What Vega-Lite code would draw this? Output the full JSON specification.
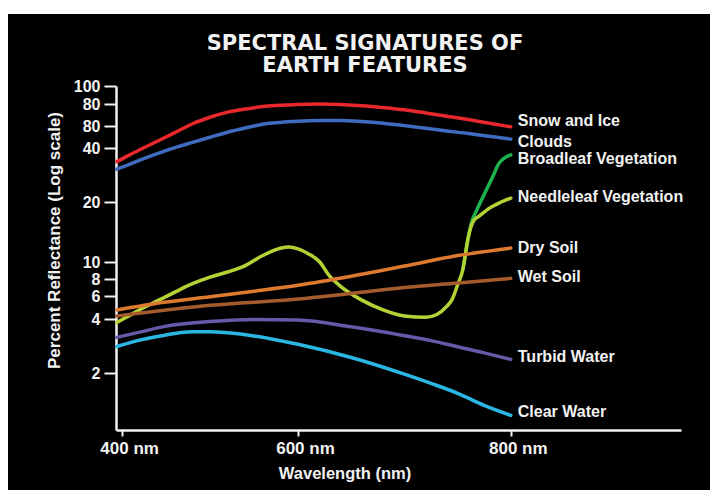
{
  "$schema": "https://vega.github.io/schema/vega-lite/v6.json",
  "width": 702,
  "height": 476,
  "autosize": "none",
  "padding": {"left": 8, "top": 14, "right": 0, "bottom": 0},
  "background": "white",
  "view": {"fill": "black", "stroke": null},
  "title": {
    "text": ["SPECTRAL SIGNATURES OF", "EARTH FEATURES"],
    "color": "#f2f2f2",
    "font": "DejaVu Sans",
    "fontSize": 21,
    "fontWeight": "bold",
    "lineHeight": 22,
    "anchor": "middle",
    "offset": 0,
    "dx": 6,
    "dy": 62
  },
  "datasets": {
    "curves": [
      {"s": "Snow and Ice", "nm": 394, "r": 33.6},
      {"s": "Snow and Ice", "nm": 400, "r": 34.8},
      {"s": "Snow and Ice", "nm": 420, "r": 39.1},
      {"s": "Snow and Ice", "nm": 440, "r": 45.3},
      {"s": "Snow and Ice", "nm": 460, "r": 53.1},
      {"s": "Snow and Ice", "nm": 480, "r": 61.8},
      {"s": "Snow and Ice", "nm": 500, "r": 67.3},
      {"s": "Snow and Ice", "nm": 520, "r": 71.9},
      {"s": "Snow and Ice", "nm": 540, "r": 74.9},
      {"s": "Snow and Ice", "nm": 560, "r": 77.4},
      {"s": "Snow and Ice", "nm": 580, "r": 78.6},
      {"s": "Snow and Ice", "nm": 600, "r": 79.6},
      {"s": "Snow and Ice", "nm": 620, "r": 79.9},
      {"s": "Snow and Ice", "nm": 640, "r": 79.6},
      {"s": "Snow and Ice", "nm": 660, "r": 78.2},
      {"s": "Snow and Ice", "nm": 680, "r": 76.3},
      {"s": "Snow and Ice", "nm": 700, "r": 74.1},
      {"s": "Snow and Ice", "nm": 720, "r": 71.2},
      {"s": "Snow and Ice", "nm": 740, "r": 68.2},
      {"s": "Snow and Ice", "nm": 760, "r": 65.3},
      {"s": "Snow and Ice", "nm": 780, "r": 62.2},
      {"s": "Snow and Ice", "nm": 800, "r": 59.1},
      {"s": "Clouds", "nm": 394, "r": 30.5},
      {"s": "Clouds", "nm": 400, "r": 31.3},
      {"s": "Clouds", "nm": 420, "r": 34.2},
      {"s": "Clouds", "nm": 440, "r": 37.2},
      {"s": "Clouds", "nm": 460, "r": 40.3},
      {"s": "Clouds", "nm": 480, "r": 44.4},
      {"s": "Clouds", "nm": 500, "r": 48.8},
      {"s": "Clouds", "nm": 520, "r": 53.5},
      {"s": "Clouds", "nm": 540, "r": 57.8},
      {"s": "Clouds", "nm": 560, "r": 61.4},
      {"s": "Clouds", "nm": 580, "r": 62.9},
      {"s": "Clouds", "nm": 600, "r": 63.8},
      {"s": "Clouds", "nm": 620, "r": 64.4},
      {"s": "Clouds", "nm": 640, "r": 64.5},
      {"s": "Clouds", "nm": 660, "r": 63.6},
      {"s": "Clouds", "nm": 680, "r": 62.2},
      {"s": "Clouds", "nm": 700, "r": 60.3},
      {"s": "Clouds", "nm": 720, "r": 57.5},
      {"s": "Clouds", "nm": 740, "r": 54.7},
      {"s": "Clouds", "nm": 760, "r": 52.3},
      {"s": "Clouds", "nm": 780, "r": 49.6},
      {"s": "Clouds", "nm": 800, "r": 47.1},
      {"s": "Broadleaf Vegetation", "nm": 755, "r": 9.09},
      {"s": "Broadleaf Vegetation", "nm": 760, "r": 13.26},
      {"s": "Broadleaf Vegetation", "nm": 763, "r": 15.7},
      {"s": "Broadleaf Vegetation", "nm": 768, "r": 18.2},
      {"s": "Broadleaf Vegetation", "nm": 777, "r": 23.3},
      {"s": "Broadleaf Vegetation", "nm": 784, "r": 28.5},
      {"s": "Broadleaf Vegetation", "nm": 788, "r": 32.2},
      {"s": "Broadleaf Vegetation", "nm": 793, "r": 34.8},
      {"s": "Broadleaf Vegetation", "nm": 800, "r": 36.6},
      {"s": "Needleleaf Vegetation", "nm": 394, "r": 3.82},
      {"s": "Needleleaf Vegetation", "nm": 400, "r": 3.97},
      {"s": "Needleleaf Vegetation", "nm": 420, "r": 4.7},
      {"s": "Needleleaf Vegetation", "nm": 440, "r": 5.5},
      {"s": "Needleleaf Vegetation", "nm": 460, "r": 6.41},
      {"s": "Needleleaf Vegetation", "nm": 480, "r": 7.39},
      {"s": "Needleleaf Vegetation", "nm": 500, "r": 8.2},
      {"s": "Needleleaf Vegetation", "nm": 520, "r": 8.77},
      {"s": "Needleleaf Vegetation", "nm": 540, "r": 9.54},
      {"s": "Needleleaf Vegetation", "nm": 560, "r": 10.78},
      {"s": "Needleleaf Vegetation", "nm": 580, "r": 11.73},
      {"s": "Needleleaf Vegetation", "nm": 590, "r": 11.89},
      {"s": "Needleleaf Vegetation", "nm": 600, "r": 11.63},
      {"s": "Needleleaf Vegetation", "nm": 610, "r": 10.98},
      {"s": "Needleleaf Vegetation", "nm": 620, "r": 10.06},
      {"s": "Needleleaf Vegetation", "nm": 630, "r": 8.27},
      {"s": "Needleleaf Vegetation", "nm": 640, "r": 7.07},
      {"s": "Needleleaf Vegetation", "nm": 660, "r": 5.58},
      {"s": "Needleleaf Vegetation", "nm": 680, "r": 4.7},
      {"s": "Needleleaf Vegetation", "nm": 700, "r": 4.22},
      {"s": "Needleleaf Vegetation", "nm": 720, "r": 4.12},
      {"s": "Needleleaf Vegetation", "nm": 730, "r": 4.31},
      {"s": "Needleleaf Vegetation", "nm": 740, "r": 5.01},
      {"s": "Needleleaf Vegetation", "nm": 745, "r": 5.68},
      {"s": "Needleleaf Vegetation", "nm": 750, "r": 7.24},
      {"s": "Needleleaf Vegetation", "nm": 755, "r": 9.09},
      {"s": "Needleleaf Vegetation", "nm": 760, "r": 13.26},
      {"s": "Needleleaf Vegetation", "nm": 765, "r": 16.1},
      {"s": "Needleleaf Vegetation", "nm": 770, "r": 16.93},
      {"s": "Needleleaf Vegetation", "nm": 780, "r": 18.64},
      {"s": "Needleleaf Vegetation", "nm": 790, "r": 19.88},
      {"s": "Needleleaf Vegetation", "nm": 800, "r": 21.0},
      {"s": "Dry Soil", "nm": 394, "r": 4.69},
      {"s": "Dry Soil", "nm": 450, "r": 5.39},
      {"s": "Dry Soil", "nm": 500, "r": 5.92},
      {"s": "Dry Soil", "nm": 550, "r": 6.51},
      {"s": "Dry Soil", "nm": 600, "r": 7.19},
      {"s": "Dry Soil", "nm": 650, "r": 8.29},
      {"s": "Dry Soil", "nm": 700, "r": 9.48},
      {"s": "Dry Soil", "nm": 750, "r": 10.77},
      {"s": "Dry Soil", "nm": 800, "r": 11.75},
      {"s": "Wet Soil", "nm": 394, "r": 4.22},
      {"s": "Wet Soil", "nm": 450, "r": 4.68},
      {"s": "Wet Soil", "nm": 500, "r": 5.09},
      {"s": "Wet Soil", "nm": 600, "r": 5.68},
      {"s": "Wet Soil", "nm": 650, "r": 6.27},
      {"s": "Wet Soil", "nm": 700, "r": 6.92},
      {"s": "Wet Soil", "nm": 750, "r": 7.48},
      {"s": "Wet Soil", "nm": 800, "r": 8.07},
      {"s": "Turbid Water", "nm": 394, "r": 3.16},
      {"s": "Turbid Water", "nm": 420, "r": 3.38},
      {"s": "Turbid Water", "nm": 450, "r": 3.65},
      {"s": "Turbid Water", "nm": 500, "r": 3.87},
      {"s": "Turbid Water", "nm": 550, "r": 3.98},
      {"s": "Turbid Water", "nm": 600, "r": 3.95},
      {"s": "Turbid Water", "nm": 650, "r": 3.62},
      {"s": "Turbid Water", "nm": 700, "r": 3.23},
      {"s": "Turbid Water", "nm": 725, "r": 3.03},
      {"s": "Turbid Water", "nm": 750, "r": 2.8},
      {"s": "Turbid Water", "nm": 775, "r": 2.59},
      {"s": "Turbid Water", "nm": 800, "r": 2.38},
      {"s": "Clear Water", "nm": 394, "r": 2.81},
      {"s": "Clear Water", "nm": 420, "r": 3.05},
      {"s": "Clear Water", "nm": 450, "r": 3.26},
      {"s": "Clear Water", "nm": 480, "r": 3.4},
      {"s": "Clear Water", "nm": 500, "r": 3.4},
      {"s": "Clear Water", "nm": 520, "r": 3.35},
      {"s": "Clear Water", "nm": 550, "r": 3.22},
      {"s": "Clear Water", "nm": 600, "r": 2.89},
      {"s": "Clear Water", "nm": 650, "r": 2.44},
      {"s": "Clear Water", "nm": 700, "r": 1.97},
      {"s": "Clear Water", "nm": 725, "r": 1.75},
      {"s": "Clear Water", "nm": 750, "r": 1.54},
      {"s": "Clear Water", "nm": 775, "r": 1.32},
      {"s": "Clear Water", "nm": 800, "r": 1.16}
    ],
    "labels": [
      {"s": "Snow and Ice", "nm": 800, "r": 64.3},
      {"s": "Clouds", "nm": 800, "r": 44.9},
      {"s": "Broadleaf Vegetation", "nm": 800, "r": 34.7},
      {"s": "Needleleaf Vegetation", "nm": 800, "r": 21.4},
      {"s": "Dry Soil", "nm": 800, "r": 11.7},
      {"s": "Wet Soil", "nm": 800, "r": 8.25},
      {"s": "Turbid Water", "nm": 800, "r": 2.45},
      {"s": "Clear Water", "nm": 800, "r": 1.215}
    ]
  },
  "encoding": {
    "x": {
      "field": "nm",
      "type": "quantitative",
      "scale": {"domain": [393, 600, 960], "range": [108, 290, 673], "zero": false, "nice": false},
      "axis": {
        "values": [400, 600, 800],
        "labelExpr": "datum.value + ' nm'",
        "title": "Wavelength (nm)",
        "offset": -60,
        "grid": false,
        "domainColor": "#f2f2f2",
        "domainWidth": 2.5,
        "tickColor": "#f2f2f2",
        "tickWidth": 2,
        "tickSize": 6,
        "labelColor": "#f2f2f2",
        "labelFont": "Liberation Sans",
        "labelFontSize": 17,
        "labelFontWeight": "bold",
        "labelPadding": 4,
        "labelOffset": 7,
        "labelOverlap": false,
        "titleColor": "#f2f2f2",
        "titleFont": "Liberation Sans",
        "titleFontSize": 16.5,
        "titleFontWeight": "bold",
        "titleX": 336.5,
        "titleY": 43,
        "titleBaseline": "middle",
        "titleAlign": "center"
      }
    },
    "y": {
      "field": "r",
      "type": "quantitative",
      "scale": {
        "type": "log",
        "domain": [0.96, 2, 4, 6, 8, 10, 20, 40, 60, 80, 100],
        "range": [416, 359, 305, 282, 265, 248, 188, 134, 112, 90, 72],
        "nice": false
      },
      "axis": {
        "values": [2, 4, 6, 8, 10, 20, 40, 60, 80, 100],
        "labelExpr": "datum.value == 60 ? '80' : format(datum.value, 'd')",
        "title": "Percent Reflectance (Log scale)",
        "offset": -108,
        "grid": false,
        "domainColor": "#f2f2f2",
        "domainWidth": 2.5,
        "tickColor": "#f2f2f2",
        "tickWidth": 2,
        "tickSize": 12,
        "labelColor": "#f2f2f2",
        "labelFont": "Liberation Sans",
        "labelFontSize": 16,
        "labelFontWeight": "bold",
        "labelPadding": 4,
        "labelOverlap": false,
        "labelBound": false,
        "labelFlush": false,
        "titleColor": "#f2f2f2",
        "titleFont": "Liberation Sans",
        "titleFontSize": 17,
        "titleFontWeight": "bold",
        "titleX": -62,
        "titleY": 226,
        "titleAngle": -90,
        "titleBaseline": "middle",
        "titleAlign": "center"
      }
    }
  },
  "layer": [
    {
      "data": {"name": "curves"},
      "mark": {"type": "line", "interpolate": "monotone", "strokeWidth": 3.5, "strokeCap": "round"},
      "encoding": {
        "color": {
          "field": "s",
          "type": "nominal",
          "legend": null,
          "scale": {
            "domain": ["Snow and Ice", "Clouds", "Broadleaf Vegetation", "Needleleaf Vegetation", "Dry Soil", "Wet Soil", "Turbid Water", "Clear Water"],
            "range": ["#e8282c", "#3f6cc0", "#1db24b", "#b3d335", "#dd7a30", "#a65b2c", "#6957a8", "#2ab7e3"]
          }
        }
      }
    },
    {
      "data": {"name": "labels"},
      "mark": {"type": "text", "align": "left", "baseline": "middle", "dx": 7, "color": "#f2f2f2", "font": "Liberation Sans", "fontSize": 16, "fontWeight": "bold"},
      "encoding": {"text": {"field": "s", "type": "nominal"}}
    }
  ]
}
